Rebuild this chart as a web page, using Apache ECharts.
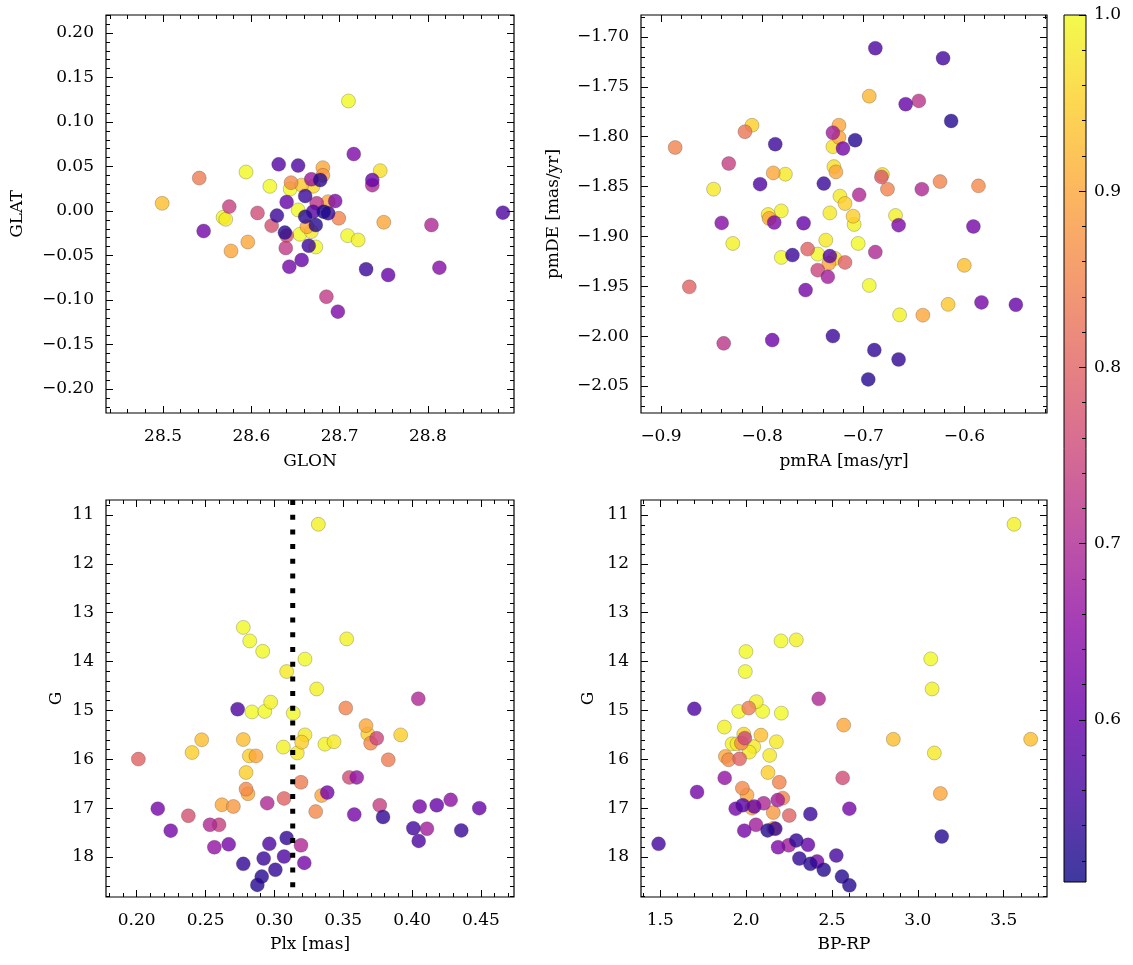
<!DOCTYPE html>
<html><head><meta charset="utf-8">
<script src="https://cdn.jsdelivr.net/npm/echarts@6/dist/echarts.min.js"></script>
<style>html,body{margin:0;padding:0;background:#fff}#c{width:1133px;height:965px}</style>
</head><body><div id="c"></div>
<script>
// ---------- data: [x, y, membership probability] ----------
const posData = [ // [GLON, GLAT, P]
[28.710,0.1236,1.0],[28.716,0.0640,0.63],[28.631,0.0524,0.58],[28.653,0.0510,0.57],[28.681,0.0487,0.90],
[28.681,0.0400,0.88],[28.746,0.0453,0.97],[28.541,0.0370,0.84],[28.594,0.0438,1.0],[28.621,0.0277,1.0],
[28.645,0.0318,0.86],[28.657,0.0290,0.94],[28.670,0.0277,0.96],[28.668,0.0356,0.67],[28.678,0.0348,0.53],
[28.737,0.0348,0.60],[28.737,0.0290,0.70],[28.644,0.0247,1.0],[28.661,0.0169,0.55],[28.640,0.0101,0.60],
[28.695,0.0112,0.63],[28.674,0.0086,0.72],[28.687,0.0105,0.90],[28.499,0.0086,0.93],[28.575,0.0049,0.74],
[28.607,-0.0022,0.76],[28.568,-0.0071,1.0],[28.571,-0.0094,0.98],[28.629,-0.0052,0.55],[28.653,0.0011,1.0],
[28.661,-0.0064,0.53],[28.670,-0.0008,0.58],[28.682,-0.0008,0.52],[28.687,-0.0026,0.55],[28.699,-0.0082,0.85],
[28.673,-0.0157,0.53],[28.663,-0.0176,0.90],[28.623,-0.0165,0.77],[28.638,-0.0243,0.53],[28.640,-0.0277,0.78],
[28.655,-0.0262,1.0],[28.668,-0.0232,0.98],[28.546,-0.0225,0.62],[28.709,-0.0277,1.0],[28.721,-0.0326,0.99],
[28.750,-0.0127,0.90],[28.804,-0.0157,0.70],[28.885,-0.0019,0.57],[28.596,-0.0348,0.90],[28.577,-0.0449,0.90],
[28.639,-0.0416,0.73],[28.673,-0.0404,1.0],[28.665,-0.0390,0.55],[28.643,-0.0626,0.62],[28.657,-0.0551,0.60],
[28.730,-0.0655,0.55],[28.755,-0.0719,0.60],[28.813,-0.0637,0.64],[28.685,-0.0963,0.73],[28.698,-0.1131,0.63]
];
const pmData = [ // [pmRA, pmDE, P]
[-0.810,-1.7885,0.95],[-0.817,-1.7950,0.83],[-0.886,-1.8108,0.85],[-0.787,-1.8075,0.55],[-0.833,-1.8269,0.74],
[-0.789,-1.8363,0.90],[-0.777,-1.8376,0.98],[-0.848,-1.8526,0.98],[-0.802,-1.8476,0.57],[-0.739,-1.8470,0.55],
[-0.724,-1.7885,0.90],[-0.730,-1.7960,0.68],[-0.724,-1.8008,0.90],[-0.730,-1.8100,0.97],[-0.720,-1.8118,0.62],
[-0.729,-1.8300,0.97],[-0.727,-1.8353,0.90],[-0.723,-1.8596,0.98],[-0.718,-1.8670,0.95],[-0.733,-1.8764,0.98],
[-0.794,-1.8780,0.98],[-0.781,-1.8744,0.99],[-0.793,-1.8820,0.90],[-0.788,-1.8860,0.63],[-0.840,-1.8864,0.64],
[-0.759,-1.8867,0.60],[-0.829,-1.9070,0.99],[-0.737,-1.9037,0.98],[-0.781,-1.9210,1.0],[-0.770,-1.9187,0.55],
[-0.755,-1.9127,0.80],[-0.745,-1.9177,1.0],[-0.733,-1.9197,0.58],[-0.728,-1.9220,0.97],[-0.734,-1.9270,0.90],
[-0.745,-1.9338,0.75],[-0.735,-1.9405,0.68],[-0.718,-1.9260,0.80],[-0.757,-1.9538,0.62],[-0.872,-1.9505,0.80],
[-0.838,-2.0072,0.72],[-0.790,-2.0039,0.61],[-0.730,-1.9999,0.55],[-0.688,-1.7113,0.57],[-0.621,-1.7213,0.56],
[-0.694,-1.7594,0.92],[-0.658,-1.7674,0.60],[-0.645,-1.7641,0.72],[-0.613,-1.7842,0.53],[-0.708,-1.8035,0.53],
[-0.681,-1.8379,0.97],[-0.682,-1.8403,0.78],[-0.676,-1.8526,0.85],[-0.642,-1.8526,0.70],[-0.624,-1.8450,0.85],
[-0.586,-1.8493,0.86],[-0.704,-1.8583,0.70],[-0.710,-1.8797,0.95],[-0.709,-1.8880,0.99],[-0.668,-1.8790,0.99],
[-0.665,-1.8887,0.63],[-0.591,-1.8900,0.62],[-0.705,-1.9070,1.0],[-0.688,-1.9157,0.70],[-0.600,-1.9290,0.93],
[-0.694,-1.9491,1.0],[-0.664,-1.9786,0.99],[-0.641,-1.9789,0.90],[-0.616,-1.9681,0.94],[-0.583,-1.9661,0.62],
[-0.549,-1.9685,0.60],[-0.689,-2.0139,0.54],[-0.665,-2.0233,0.54],[-0.695,-2.0433,0.53]
];
const plxData = [ // [Plx, G, P]
[0.2012,15.996,0.80],[0.2153,17.01,0.62],[0.2247,17.46,0.62],[0.2375,17.155,0.77],[0.2402,15.861,0.95],
[0.2472,15.60,0.93],[0.2532,17.34,0.70],[0.2598,17.34,0.74],[0.2564,17.80,0.66],[0.2668,17.74,0.62],
[0.2619,16.93,0.90],[0.2702,16.965,0.88],[0.2733,14.974,0.57],[0.2774,13.30,1.0],[0.2821,13.577,1.0],
[0.2915,13.79,1.0],[0.2774,15.595,0.93],[0.2818,15.93,0.95],[0.2866,15.93,0.90],[0.2794,16.27,0.95],
[0.2794,16.61,0.86],[0.2808,16.705,0.90],[0.2837,15.03,1.0],[0.2930,15.02,1.0],[0.2973,14.83,0.99],
[0.3089,14.204,0.98],[0.3137,15.055,1.0],[0.3222,13.95,1.0],[0.2948,16.897,0.70],[0.3070,16.80,0.80],
[0.3065,15.75,0.99],[0.3198,15.65,0.95],[0.3222,15.50,0.98],[0.3166,15.87,0.98],[0.3193,16.47,0.84],
[0.2963,17.73,0.57],[0.3089,17.61,0.54],[0.3070,17.99,0.57],[0.2922,18.03,0.55],[0.2774,18.14,0.54],
[0.3007,18.26,0.54],[0.2908,18.40,0.53],[0.2876,18.57,0.53],[0.3193,17.76,0.70],[0.3217,18.12,0.62],
[0.3319,11.19,0.99],[0.3525,13.536,0.99],[0.3307,14.56,0.99],[0.3518,14.95,0.85],[0.4045,14.76,0.70],
[0.3665,15.31,0.90],[0.3678,15.48,0.95],[0.3699,15.67,0.86],[0.3743,15.57,0.75],[0.3917,15.50,0.95],
[0.3827,16.01,0.84],[0.3367,15.69,0.99],[0.3433,15.64,0.98],[0.3544,16.37,0.76],[0.3598,16.37,0.66],
[0.3343,16.74,0.90],[0.3384,16.68,0.62],[0.3300,17.07,0.86],[0.3580,17.13,0.62],[0.3789,17.18,0.54],
[0.3765,16.94,0.74],[0.4055,16.965,0.62],[0.4179,16.94,0.60],[0.4280,16.83,0.65],[0.4488,17.00,0.60],
[0.4009,17.41,0.56],[0.4108,17.42,0.68],[0.4048,17.67,0.57],[0.4357,17.455,0.55]
];
const cmdData = [ // [BP-RP, G, P]
[1.999,13.795,1.0],[1.995,14.204,1.0],[2.203,13.577,1.0],[2.292,13.556,0.99],[1.698,14.967,0.57],
[2.4225,14.763,0.70],[2.568,15.30,0.90],[1.957,15.02,1.0],[2.015,14.95,0.84],[2.059,14.82,0.99],
[2.096,15.02,1.0],[2.205,15.055,1.0],[1.873,15.34,0.99],[1.986,15.485,0.96],[1.992,15.567,0.75],
[2.086,15.505,0.93],[1.918,15.683,0.99],[1.947,15.683,0.98],[1.972,15.67,0.86],[2.044,15.74,0.98],
[2.018,15.853,0.98],[2.176,15.64,0.98],[1.879,15.94,0.90],[1.898,16.01,0.86],[1.962,15.99,0.80],
[2.137,15.92,0.98],[2.127,16.27,0.95],[1.875,16.38,0.66],[1.714,16.67,0.62],[2.562,16.38,0.76],
[2.193,16.47,0.85],[1.978,16.59,0.86],[2.005,16.73,0.90],[2.213,16.795,0.85],[2.184,16.835,0.68],
[1.939,17.01,0.62],[1.980,16.94,0.58],[2.047,16.965,0.60],[2.102,16.90,0.70],[2.034,17.00,0.90],
[2.158,17.09,0.88],[2.251,17.15,0.80],[2.374,17.12,0.55],[2.601,17.01,0.62],[2.057,17.34,0.68],
[1.989,17.46,0.62],[2.125,17.455,0.53],[2.170,17.42,0.55],[2.160,17.41,0.90],[1.490,17.73,0.56],
[2.186,17.80,0.63],[2.248,17.76,0.68],[2.292,17.66,0.54],[2.360,17.75,0.60],[2.310,18.03,0.54],
[2.374,18.14,0.53],[2.413,18.09,0.62],[2.452,18.26,0.53],[2.525,17.97,0.56],[2.558,18.40,0.53],
[2.601,18.58,0.53],[3.560,11.19,0.99],[3.075,13.945,1.0],[3.083,14.56,0.99],[2.857,15.59,0.93],
[3.657,15.59,0.93],[3.096,15.87,0.98],[3.131,16.70,0.90],[3.139,17.58,0.53]
];
const plxCut = 0.3133;

// ---------- tick labels ----------
const glonTicks = [28.5, 28.6, 28.7, 28.8];
const glatTicks = [-0.20, -0.15, -0.10, -0.05, 0.00, 0.05, 0.10, 0.15, 0.20];
const pmraTicks = [-0.9, -0.8, -0.7, -0.6];
const pmdeTicks = [-2.05, -2.00, -1.95, -1.90, -1.85, -1.80, -1.75, -1.70];
const plxTicks = [0.20, 0.25, 0.30, 0.35, 0.40, 0.45];
const gTicks = [11, 12, 13, 14, 15, 16, 17, 18];
const bprpTicks = [1.5, 2.0, 2.5, 3.0, 3.5];
const probTicks = [0.6, 0.7, 0.8, 0.9, 1.0];
const probMin = 0.508, probMax = 1.0;

const plasma = ['#0d0887','#41049d','#6a00a8','#8f0da4','#b12a90','#cc4778','#e16462','#f2844b','#fca636','#fcce25','#f0f921'];

const FONT = 'DejaVu Serif';
const FS = 17;
const ALPHA = 0.8;

function fmt(v, d) { return v.toFixed(d).replace('-', '\u2212'); }
function minorVals(min, max, step, majors) {
  const out = [];
  const s = Math.ceil(min / step - 1e-9), e = Math.floor(max / step + 1e-9);
  for (let k = s; k <= e; k++) {
    const v = +(k * step).toFixed(6);
    if (!majors.some(m => Math.abs(m - v) < step / 10)) out.push(v);
  }
  return out;
}
function rgba(hex, a) {
  const n = parseInt(hex.slice(1), 16);
  return 'rgba(' + (n >> 16) + ',' + ((n >> 8) & 255) + ',' + (n & 255) + ',' + a + ')';
}

const xAxes = [], yAxes = [], grids = [];
const txt = { fontFamily: FONT, fontSize: FS, color: '#000' };

function addAxes(list, isX, gi, c) {
  const pos = isX ? ['bottom', 'top'] : ['left', 'right'];
  const minors = minorVals(c.min, c.max, c.minor, c.majors);
  const base = { type: 'value', gridIndex: gi, min: c.min, max: c.max, inverse: !!c.inverse,
    axisLine: { show: false, onZero: false }, splitLine: { show: false } };
  const primaryIndex = list.length;
  pos.forEach((p, pi) => {
    list.push(Object.assign({}, base, {
      position: p,
      axisTick: { show: true, inside: true, length: 7, lineStyle: { color: '#000', width: 1 }, customValues: c.majors },
      axisLabel: pi === 0 ? Object.assign({ show: true, customValues: c.majors, margin: c.margin,
        formatter: v => fmt(v, c.dec) }, txt) : { show: false },
      name: pi === 0 ? c.name : '', nameLocation: 'middle', nameGap: c.nameGap,
      nameRotate: isX ? 0 : 90, nameTextStyle: txt
    }));
    list.push(Object.assign({}, base, {
      position: p,
      axisTick: { show: true, inside: true, length: 4, lineStyle: { color: '#000', width: 1 }, customValues: minors },
      axisLabel: { show: false }
    }));
  });
  return primaryIndex;
}

const panels = [
  { rect: [106, 15, 408, 398], data: posData,
    x: { min: 28.4354, max: 28.8975, majors: glonTicks, minor: 0.02, dec: 1, name: 'GLON', nameGap: 40, margin: 15 },
    y: { min: -0.227, max: 0.2202, majors: glatTicks, minor: 0.01, dec: 2, name: 'GLAT', nameGap: 80, margin: 12 } },
  { rect: [641, 15, 406, 398], data: pmData,
    x: { min: -0.9198, max: -0.5182, majors: pmraTicks, minor: 0.02, dec: 1, name: 'pmRA [mas/yr]', nameGap: 40, margin: 15 },
    y: { min: -2.077, max: -1.678, majors: pmdeTicks, minor: 0.01, dec: 2, name: 'pmDE [mas/yr]', nameGap: 79, margin: 12 } },
  { rect: [106, 500, 408, 397], data: plxData, cut: true,
    x: { min: 0.1777, max: 0.474, majors: plxTicks, minor: 0.01, dec: 2, name: 'Plx [mas]', nameGap: 39, margin: 15 },
    y: { min: 10.693, max: 18.818, inverse: true, majors: gTicks, minor: 0.2, dec: 0, name: 'G', nameGap: 41, margin: 12 } },
  { rect: [641, 500, 406, 397], data: cmdData,
    x: { min: 1.3876, max: 3.752, majors: bprpTicks, minor: 0.1, dec: 1, name: 'BP-RP', nameGap: 39, margin: 15 },
    y: { min: 10.693, max: 18.818, inverse: true, majors: gTicks, minor: 0.2, dec: 0, name: 'G', nameGap: 44, margin: 12 } }
];

const series = [];
const extra = [];
panels.forEach((p, gi) => {
  grids.push({ left: p.rect[0], top: p.rect[1], width: p.rect[2], height: p.rect[3], show: true,
    borderColor: '#000', borderWidth: 1.2, backgroundColor: 'transparent', containLabel: false, outerBoundsMode: 'none' });
  const xi = addAxes(xAxes, true, gi, p.x);
  const yi = addAxes(yAxes, false, gi, p.y);
  const sorted = p.data.slice().sort((a, b) => b[2] - a[2]);
  series.push({
    type: 'scatter', xAxisIndex: xi, yAxisIndex: yi, data: sorted, symbolSize: 14,
    itemStyle: { opacity: ALPHA, borderColor: 'rgba(50,50,50,0.55)', borderWidth: 0.6 },
    emphasis: { disabled: true }
  });
  if (p.cut) {
    extra.push({
      type: 'line', xAxisIndex: xi, yAxisIndex: yi, z: 5, symbol: 'none', silent: true,
      data: [[plxCut, p.y.min], [plxCut, p.y.max]],
      lineStyle: { color: '#000', width: 5, type: [5, 9.7], cap: 'butt' },
      emphasis: { disabled: true }
    });
  }
});

// colorbar
const cbStops = plasma.map((c, i) => ({ offset: 1 - i / (plasma.length - 1), color: rgba(c, ALPHA) })).reverse();
grids.push({ left: 1064, top: 15, width: 22, height: 867, show: true, borderColor: '#000', borderWidth: 1,
  backgroundColor: new echarts.graphic.LinearGradient(0, 0, 0, 1, cbStops), outerBoundsMode: 'none' });
xAxes.push({ type: 'value', gridIndex: 4, show: false, min: 0, max: 1 });
const cbMinors = minorVals(probMin, probMax, 0.02, probTicks);
yAxes.push({ type: 'value', gridIndex: 4, position: 'right', min: probMin, max: probMax,
  axisLine: { show: false, onZero: false }, splitLine: { show: false },
  axisTick: { show: true, inside: true, length: 7, lineStyle: { color: '#000', width: 1 }, customValues: probTicks },
  axisLabel: Object.assign({ show: true, customValues: probTicks, margin: 8, formatter: v => fmt(v, 1) }, txt) });
yAxes.push({ type: 'value', gridIndex: 4, position: 'right', min: probMin, max: probMax,
  axisLine: { show: false, onZero: false }, splitLine: { show: false },
  axisTick: { show: true, inside: true, length: 4, lineStyle: { color: '#000', width: 1 }, customValues: cbMinors },
  axisLabel: { show: false } });

const chart = echarts.init(document.getElementById('c'), null, { renderer: 'canvas' });
chart.setOption({
  animation: false,
  backgroundColor: '#fff',
  grid: grids,
  xAxis: xAxes,
  yAxis: yAxes,
  visualMap: { type: 'continuous', show: false, min: probMin, max: probMax, dimension: 2,
    seriesIndex: [0, 1, 2, 3], inRange: { color: plasma } },
  series: series.concat(extra)
});
</script>
</body></html>
